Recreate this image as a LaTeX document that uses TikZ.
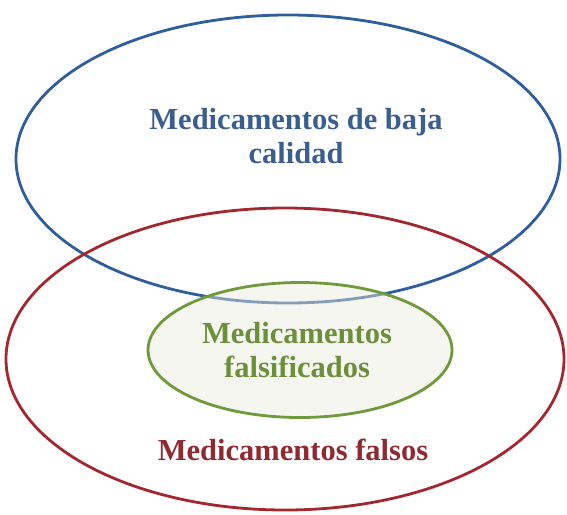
\documentclass[tikz,border=0pt]{standalone}
\usepackage{fontspec}
\setmainfont{Liberation Serif}
\usetikzlibrary{shapes.geometric}
\definecolor{cblue}{HTML}{2F5E9C}
\definecolor{cbluetext}{HTML}{3A5F8F}
\definecolor{cred}{HTML}{A3282E}
\definecolor{credtext}{HTML}{8E2A30}
\definecolor{cgreen}{HTML}{6F9A3A}
\definecolor{cgreentext}{HTML}{6C8F3B}
\definecolor{cgreenfill}{HTML}{E6EADC}
\tikzset{
  setshape/.style={ellipse, inner sep=0pt, line width=2.8pt},
  settext/.style={font=\bfseries\fontsize{30.5}{34.5}\selectfont, align=center, inner sep=0pt}
}
\begin{document}
\begin{tikzpicture}[x=1pt,y=-1pt]
\useasboundingbox (0,0) rectangle (567,514);
\node[setshape, draw=cblue, minimum width=544pt, minimum height=288pt] (low) at (288,159) {};
\node[setshape, draw=cred, minimum width=558pt, minimum height=302pt] (fake) at (285,359) {};
\node[setshape, draw=cgreen, fill=cgreenfill, fill opacity=0.45, minimum width=304pt, minimum height=135pt] (falsif) at (300,350) {};
\node[settext, text=cbluetext] (lowtxt) at (296,136) {Medicamentos de baja\\calidad};
\node[settext, text=cgreentext] (falsiftxt) at (297,350) {Medicamentos\\falsificados};
\node[settext, text=credtext] (faketxt) at (293,450) {Medicamentos falsos};
\end{tikzpicture}
\end{document}
